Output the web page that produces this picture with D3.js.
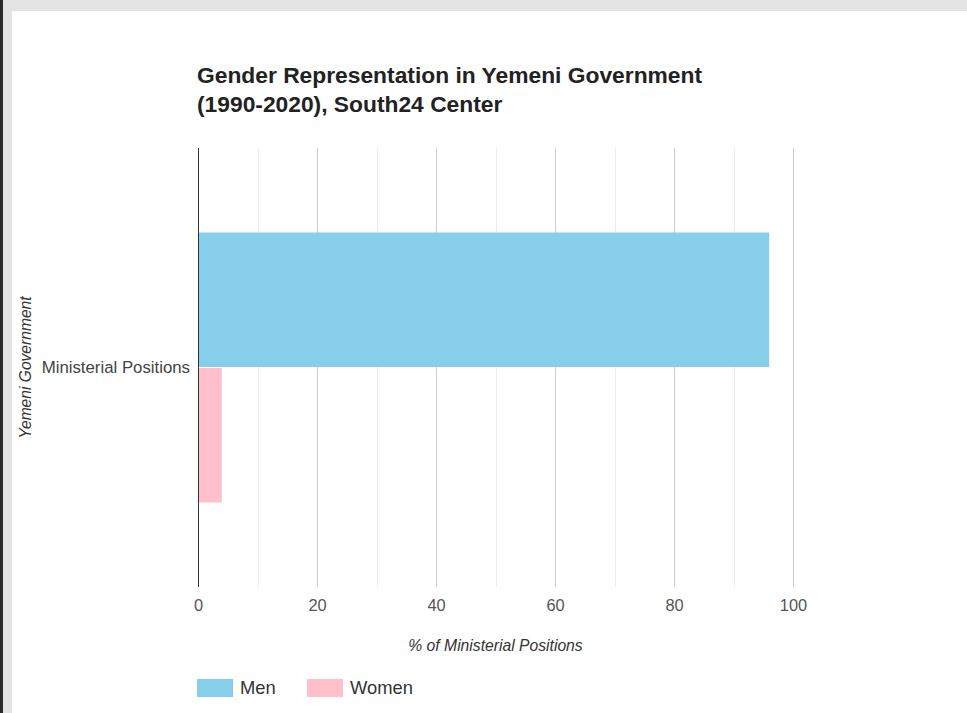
<!DOCTYPE html>
<html>
<head>
<meta charset="utf-8">
<script src="https://cdn.jsdelivr.net/npm/d3@7"></script>
<style>
  html, body { margin: 0; padding: 0; background: #e4e4e4; }
  body { width: 967px; height: 713px; overflow: hidden; position: relative; }
  #edge { position: absolute; left: 0; top: 0; width: 3px; height: 713px; background: #2a2a2a; }
  #chart { position: absolute; left: 12px; top: 11px; width: 955px; height: 702px; background: #fff; }
  text { font-family: "Liberation Sans", Arial, sans-serif; }
</style>
</head>
<body>
<div id="edge"></div>
<div id="chart"></div>
<script>
// data
var categories = ["Ministerial Positions"];
var seriesNames = ["Men", "Women"];
var menValues = [96];
var womenValues = [4];
var seriesColors = ["#87ceeb", "#ffc0cb"];
var xTicks = [0, 20, 40, 60, 80, 100];
var xGrid = [0, 10, 20, 30, 40, 50, 60, 70, 80, 90, 100];

var svgWidth = 955, svgHeight = 702;
// page offset of the white card is (12, 11)
var margin = { top: 137, left: 186, right: 174, bottom: 126 };
var width = svgWidth - margin.left - margin.right;
var height = svgHeight - margin.top - margin.bottom;

var svg = d3.select("#chart").append("svg")
  .attr("width", svgWidth)
  .attr("height", svgHeight);

// title
var title = svg.append("text")
  .attr("x", 185)
  .attr("font-size", 22.8)
  .attr("font-weight", "bold")
  .attr("fill", "#222");
title.append("tspan").attr("x", 185).attr("y", 72).text("Gender Representation in Yemeni Government");
title.append("tspan").attr("x", 185).attr("y", 101).text("(1990-2020), South24 Center");

var g = svg.append("g").attr("transform", `translate(${margin.left}, ${margin.top})`);

var x = d3.scaleLinear().domain([0, 100]).range([0, width]);
var y = d3.scaleBand().domain(categories).range([0, height]).paddingOuter(0.313);
var ySeries = d3.scaleBand().domain(seriesNames).range([0, y.bandwidth()]).paddingInner(0.0074);

// gridlines
g.selectAll(".grid")
  .data(xGrid.filter(d => d > 0))
  .enter().append("line")
  .attr("x1", d => Math.round(x(d)) + 0.5)
  .attr("x2", d => Math.round(x(d)) + 0.5)
  .attr("y1", 0)
  .attr("y2", height)
  .attr("stroke", d => d % 20 === 0 ? "#cccccc" : "#ebebeb")
  .attr("stroke-width", 1);

// bars
var rows = categories.map((c, i) => ({ cat: c, values: [menValues[i], womenValues[i]] }));
var groups = g.selectAll(".cat")
  .data(rows)
  .enter().append("g")
  .attr("transform", d => `translate(0, ${y(d.cat)})`);

groups.selectAll("rect")
  .data(d => d.values.map((v, j) => ({ name: seriesNames[j], value: v, color: seriesColors[j] })))
  .enter().append("rect")
  .attr("x", x(0))
  .attr("y", d => ySeries(d.name))
  .attr("width", d => x(d.value) - x(0))
  .attr("height", ySeries.bandwidth())
  .attr("fill", d => d.color);

// baseline
g.append("line")
  .attr("x1", x(0) + 0.5).attr("x2", x(0) + 0.5)
  .attr("y1", 0).attr("y2", height)
  .attr("stroke", "#333").attr("stroke-width", 1);

// x tick labels
var bottomAxis = d3.axisBottom(x).tickValues(xTicks).tickSize(0).tickPadding(0);
var xAxisG = g.append("g")
  .attr("transform", `translate(0, ${height})`)
  .call(bottomAxis);
xAxisG.select(".domain").remove();
xAxisG.selectAll("text")
  .attr("y", 24)
  .attr("dy", 0)
  .attr("font-size", 16.4)
  .attr("fill", "#555")
  .attr("font-family", "Liberation Sans, Arial, sans-serif");

// y category labels
var leftAxis = d3.axisLeft(y).tickSize(0).tickPadding(8);
var yAxisG = g.append("g").call(leftAxis);
yAxisG.select(".domain").remove();
yAxisG.selectAll("text")
  .attr("font-size", 16.8)
  .attr("fill", "#444")
  .attr("dy", "0.35em")
  .attr("font-family", "Liberation Sans, Arial, sans-serif");

// axis titles
g.append("text")
  .attr("x", x(50))
  .attr("y", height + 64)
  .attr("text-anchor", "middle")
  .attr("font-size", 15.7)
  .attr("font-style", "italic")
  .attr("fill", "#333")
  .text("% of Ministerial Positions");

svg.append("text")
  .attr("transform", `translate(19, ${margin.top + y(categories[0]) + y.bandwidth() / 2}) rotate(-90)`)
  .attr("text-anchor", "middle")
  .attr("font-size", 15.6)
  .attr("font-style", "italic")
  .attr("fill", "#333")
  .text("Yemeni Government");

// legend
var legendX = [185, 295];
var legend = svg.selectAll(".legend")
  .data(seriesNames)
  .enter().append("g")
  .attr("transform", (d, i) => `translate(${legendX[i]}, 668)`);
legend.append("rect")
  .attr("width", 36).attr("height", 18)
  .attr("fill", (d, i) => seriesColors[i]);
legend.append("text")
  .attr("x", 43).attr("y", 15)
  .attr("font-size", 18.4)
  .attr("fill", "#333")
  .text(d => d);
</script>
</body>
</html>
